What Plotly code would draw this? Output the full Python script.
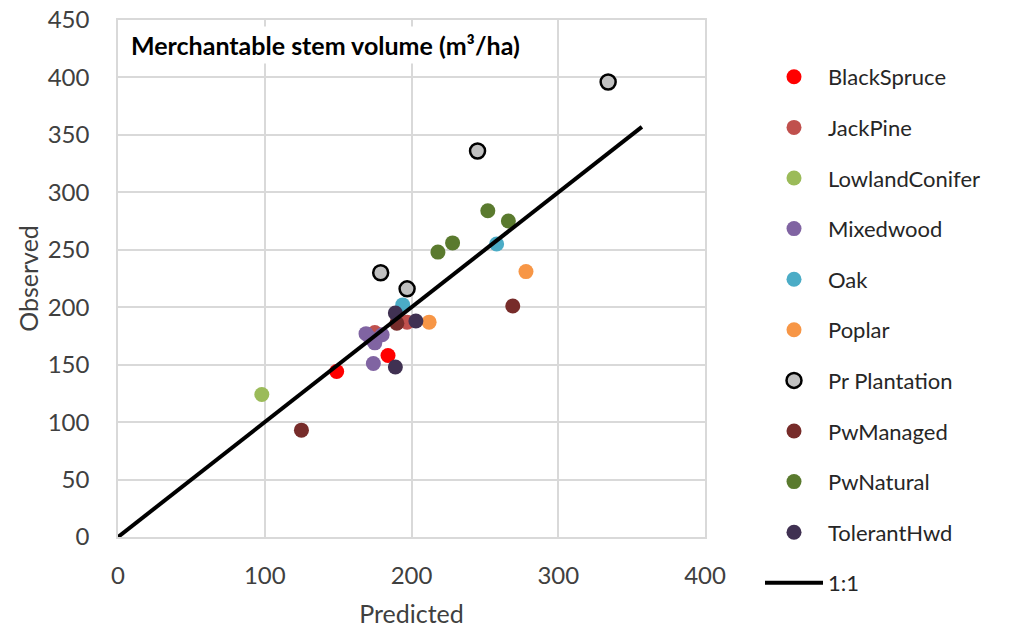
import plotly.graph_objects as go

# Data (Predicted, Observed) per forest type
names = ["BlackSpruce", "JackPine", "LowlandConifer", "Mixedwood", "Oak",
         "Poplar", "Pr Plantation", "PwManaged", "PwNatural", "TolerantHwd"]
colors = ["#FF0000", "#C0504D", "#9BBB59", "#8064A2", "#4BACC6",
          "#F79646", "#C0C0C0", "#772C2A", "#5A7A2E", "#403152"]

pred_blackspruce = [149, 184]
obs_blackspruce = [144, 158]
pred_jackpine = [175, 197]
obs_jackpine = [178, 187]
pred_lowland = [98]
obs_lowland = [124]
pred_mixed = [169, 180, 175, 174, 172]
obs_mixed = [177, 176, 169, 151, 173]
pred_oak = [194, 258]
obs_oak = [202, 255]
pred_poplar = [212, 278]
obs_poplar = [187, 231]
pred_pr = [179, 197, 245, 334]
obs_pr = [230, 216, 336, 396]
pred_pwman = [190, 269, 125]
obs_pwman = [186, 201, 93]
pred_pwnat = [218, 228, 252, 266]
obs_pwnat = [248, 256, 284, 275]
pred_tol = [189, 203, 189]
obs_tol = [195, 188, 148]

preds = [pred_blackspruce, pred_jackpine, pred_lowland, pred_mixed, pred_oak,
         pred_poplar, pred_pr, pred_pwman, pred_pwnat, pred_tol]
obss = [obs_blackspruce, obs_jackpine, obs_lowland, obs_mixed, obs_oak,
        obs_poplar, obs_pr, obs_pwman, obs_pwnat, obs_tol]

line_x = [0, 357]
line_y = [0, 357]

x_ticks = [0, 100, 200, 300, 400]
y_ticks = [0, 50, 100, 150, 200, 250, 300, 350, 400, 450]

FONT = "Lato"
TXT = "#404040"

fig = go.Figure()
for i, (n, c, px, py) in enumerate(zip(names, colors, preds, obss)):
    is_pr = n == "Pr Plantation"
    fig.add_trace(go.Scatter(
        x=px, y=py, mode="markers", name=n, legendgroup=n,
        marker=dict(size=15, color=c,
                    line=dict(color="#000000" if is_pr else c,
                              width=2.5 if is_pr else 0)),
    ))
fig.add_trace(go.Scatter(
    x=line_x, y=line_y, mode="lines", name="1:1", legendgroup="1:1",
    line=dict(color="#000000", width=4),
))

fig.add_annotation(
    x=0, y=1, xref="paper", yref="paper", xanchor="left", yanchor="top",
    xshift=9, yshift=-6,
    text="<b>Merchantable stem volume (m³/ha)</b>", showarrow=False,
    font=dict(family=FONT, size=25, color="#000000"),
    bgcolor="#FFFFFF", borderpad=3,
)

fig.update_layout(
    width=1010, height=631,
    margin=dict(l=118, r=305, t=20, b=94),
    paper_bgcolor="#FFFFFF", plot_bgcolor="#FFFFFF",
    font=dict(family=FONT, size=24, color=TXT),
    legend=dict(x=760 / 1010, y=1 - 56 / 631, xref="container", yref="container",
                xanchor="left", yanchor="top",
                font=dict(family=FONT, size=22, color="#262626"),
                tracegroupgap=19, itemwidth=58, maxheight=1.0),
    showlegend=True,
)
fig.update_xaxes(
    range=[0, 400], tickvals=x_ticks, showgrid=True, gridcolor="#D9D9D9",
    gridwidth=1.5, zeroline=False, showline=True, linecolor="#D9D9D9",
    linewidth=1.5, mirror=True, ticklabelstandoff=16, automargin=False,
    tickfont=dict(size=24, color=TXT),
    title=dict(text="Predicted", font=dict(size=25, color=TXT), standoff=18),
)
fig.update_yaxes(
    range=[0, 450], tickvals=y_ticks, showgrid=True, gridcolor="#D9D9D9",
    gridwidth=1.5, zeroline=False, showline=True, linecolor="#D9D9D9",
    linewidth=1.5, mirror=True, ticklabelstandoff=22, automargin=False,
    tickfont=dict(size=24, color=TXT),
    title=dict(text="Observed", font=dict(size=25, color=TXT), standoff=2),
)

fig.write_html("out.html")
